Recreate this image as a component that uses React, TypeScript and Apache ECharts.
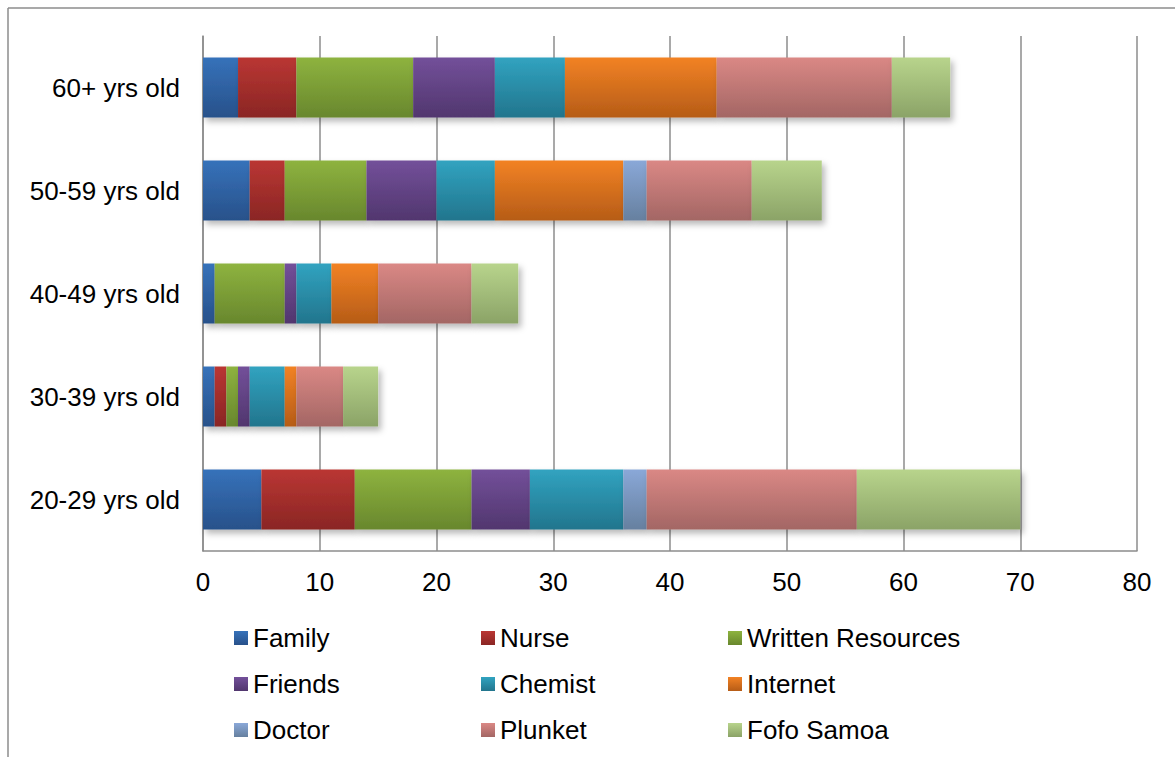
import React, { useEffect, useRef } from "react";
import * as echarts from "echarts";

// Age groups, listed bottom to top on the category axis
const ageGroups = ["20-29 yrs old", "30-39 yrs old", "40-49 yrs old", "50-59 yrs old", "60+ yrs old"];

// Number of respondents per information source, one value per age group
const family = [5, 1, 1, 4, 3];
const nurse = [8, 1, 0, 3, 5];
const writtenResources = [10, 1, 6, 7, 10];
const friends = [5, 1, 1, 6, 7];
const chemist = [8, 3, 3, 5, 6];
const internet = [0, 1, 4, 11, 13];
const doctor = [2, 0, 0, 2, 0];
const plunket = [18, 4, 8, 9, 15];
const fofoSamoa = [14, 3, 4, 6, 5];

const xTicks = { min: 0, max: 80, interval: 10 };

const seriesDefs = [
  { name: "Family", data: family, top: "#3672BA", bottom: "#28518A" },
  { name: "Nurse", data: nurse, top: "#BA3633", bottom: "#8A2624" },
  { name: "Written Resources", data: writtenResources, top: "#8EB33F", bottom: "#68872D" },
  { name: "Friends", data: friends, top: "#73509A", bottom: "#51366E" },
  { name: "Chemist", data: chemist, top: "#31A3C0", bottom: "#22758D" },
  { name: "Internet", data: internet, top: "#F28224", bottom: "#B65C17" },
  { name: "Doctor", data: doctor, top: "#8AA8D8", bottom: "#66809F" },
  { name: "Plunket", data: plunket, top: "#DA8885", bottom: "#A36664" },
  { name: "Fofo Samoa", data: fofoSamoa, top: "#B8D48C", bottom: "#8BA367" },
];

const FONT = "'Liberation Sans', Arial, Helvetica, sans-serif";

export default function App() {
  const ref = useRef<HTMLDivElement>(null);

  useEffect(() => {
    if (!ref.current) return;
    const chart = echarts.init(ref.current, undefined, { renderer: "svg" });

    const series = seriesDefs.map((s) => ({
      name: s.name,
      type: "bar" as const,
      stack: "total",
      barWidth: 60,
      data: s.data,
      itemStyle: {
        color: new echarts.graphic.LinearGradient(0, 0, 0, 1, [
          { offset: 0, color: s.top },
          { offset: 1, color: s.bottom },
        ]),
        shadowBlur: 6,
        shadowOffsetX: 3,
        shadowOffsetY: 4,
        shadowColor: "rgba(0,0,0,0.28)",
      },
      emphasis: { disabled: true },
    }));

    chart.setOption({
      animation: false,
      backgroundColor: "#ffffff",
      textStyle: { fontFamily: FONT },
      grid: { left: 203, top: 36, width: 934, height: 515, containLabel: false },
      xAxis: {
        type: "value",
        min: xTicks.min,
        max: xTicks.max,
        interval: xTicks.interval,
        axisLine: { show: true, lineStyle: { color: "#8c8c8c", width: 1.5 } },
        axisTick: { show: false },
        axisLabel: { color: "#000", fontSize: 26, fontFamily: FONT, margin: 18 },
        splitLine: { show: true, lineStyle: { color: "#8c8c8c", width: 1.5 } },
      },
      yAxis: {
        type: "category",
        data: ageGroups,
        axisLine: { show: true, lineStyle: { color: "#8c8c8c", width: 1.5 } },
        axisTick: { show: false },
        axisLabel: { color: "#000", fontSize: 26, fontFamily: FONT, margin: 23 },
        splitLine: { show: false },
      },
      legend: {
        left: 234,
        top: 615,
        width: 750,
        padding: 0,
        itemGap: 0,
        itemWidth: 14,
        itemHeight: 14,
        icon: "rect",
        selectedMode: false,
        data: seriesDefs.map((s) => s.name),
        textStyle: {
          color: "#000",
          fontSize: 26,
          fontFamily: FONT,
          width: 228,
          lineHeight: 46,
        },
      },
      graphic: [
        {
          type: "line",
          shape: { x1: 8, y1: 8, x2: 1175, y2: 8 },
          style: { stroke: "#8c8c8c", lineWidth: 1.5 },
          silent: true,
        },
        {
          type: "line",
          shape: { x1: 8, y1: 8, x2: 8, y2: 757 },
          style: { stroke: "#8c8c8c", lineWidth: 1.5 },
          silent: true,
        },
      ],
      series,
    });

    return () => chart.dispose();
  }, []);

  return (
    <div
      style={{ position: "fixed", left: 0, top: 0, width: 1175, height: 757, overflow: "hidden", background: "#fff" }}
    >
      <div ref={ref} style={{ width: 1175, height: 757 }} />
    </div>
  );
}
